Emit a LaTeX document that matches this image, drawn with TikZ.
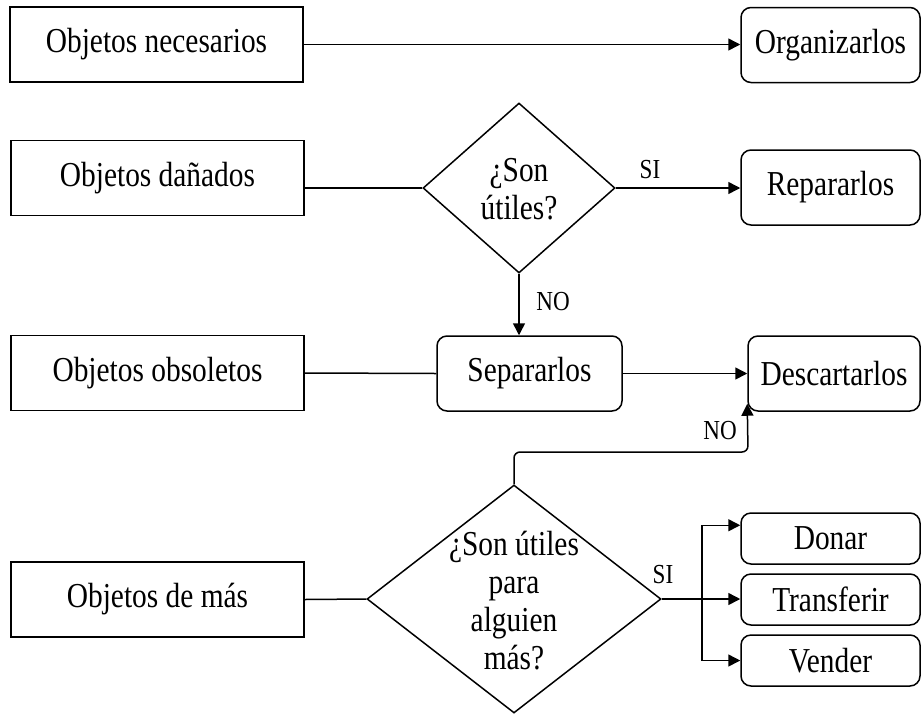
\documentclass[tikz,border=0pt]{standalone}
\usepackage{fontspec}
\setmainfont{Liberation Serif}[FakeStretch=0.84]
\usetikzlibrary{shapes.geometric,arrows.meta,calc}

\tikzset{
  txt/.style={font=\fontsize{35}{38}\selectfont, align=center},
  srcbox/.style={draw, rectangle, line width=1.5pt, inner sep=0pt,
                 minimum width=293pt, minimum height=75pt, txt},
  actbox/.style={draw, rectangle, rounded corners=10pt, line width=1.5pt,
                 inner sep=0pt, minimum height=75pt, txt},
  smallbox/.style={actbox, minimum width=179pt, minimum height=51pt},
  decision/.style={draw, diamond, line width=1.5pt, inner sep=0pt},
  lbl/.style={font=\fontsize{27.5}{30}\selectfont, inner sep=0pt},
  conn/.style={line width=1.5pt},
  arr/.style={conn, -{Triangle[length=12pt,width=12pt]}},
}

\begin{document}
\begin{tikzpicture}[x=1pt, y=-1pt]
\useasboundingbox (0,0) rectangle (921,713);

% source categories
\node[srcbox] (n1) at (156.5,44.5) {Objetos necesarios};
\node[srcbox] (n2) at (157.5,178)  {Objetos dañados};
\node[srcbox] (n3) at (157.5,373)  {Objetos obsoletos};
\node[srcbox] (n4) at (157.5,599.5) {Objetos de más};

% actions
\node[actbox, minimum width=179pt] (org)  at (830.5,45)    {Organizarlos};
\node[actbox, minimum width=179pt] (rep)  at (830.5,187.5) {Repararlos};
\node[actbox, minimum width=185pt] (sep)  at (529.5,373.5) {Separarlos};
\node[actbox, minimum width=172pt] (desc) at (834,373.5)   {Descartarlos};
\node[smallbox] (don) at (830.5,538.5) {Donar};
\node[smallbox] (tra) at (830.5,599.5) {Transferir};
\node[smallbox] (ven) at (830.5,660.5) {Vender};

% decisions
\node[decision, minimum width=192pt, minimum height=170pt] (d1) at (519,188) {};
\node[txt, inner sep=0pt] (d1t) at (519,189) {¿Son\\útiles?};
\node[decision, minimum width=294pt, minimum height=228pt] (d2) at (514,599) {};
\node[txt, inner sep=0pt] (d2t) at (514,601) {¿Son útiles\\para\\alguien\\más?};

% connectors
\draw[arr] (n1.east) -- (n1.east -| org.west);

\draw[conn] (n2.east |- d1.west) -- (d1.west);
\draw[arr] (d1.east) -- (d1.east -| rep.west);
\node[lbl] (si1) at (650,170) {SI};
\draw[arr] (d1.south) -- (d1.south |- sep.north);
\node[lbl] (no1) at (553,302) {NO};

\draw[conn] (n3.east) -- (sep.west);
\draw[arr] (sep.east) -- (desc.west);

\coordinate (elb) at (748,452);
\draw[arr, rounded corners=6pt] (d2.north) |- (elb) -- ($(desc.south west)+(0,-8)$);
\node[lbl] (no2) at (720,431) {NO};

\draw[conn] (n4.east) -- (d2.west);
\coordinate (fk) at (702,599);
\draw[arr] (d2.east) -- (d2.east -| tra.west);
\draw[arr] (fk) |- ($(don.north west)+(0,13)$);
\draw[arr] (fk) |- (ven.west);
\node[lbl] (si2) at (663,575) {SI};
\end{tikzpicture}
\end{document}
